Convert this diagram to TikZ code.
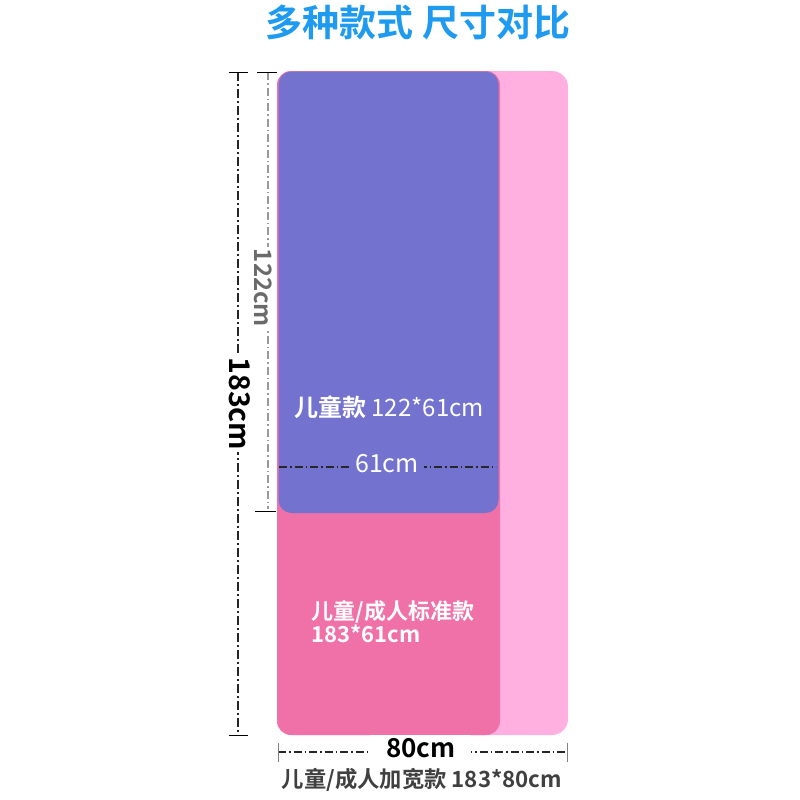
\documentclass[tikz,border=0pt]{standalone}
\usepackage{fontspec}
\setmainfont{Noto Sans CJK SC}
\newfontfamily\cjkb{Noto Sans CJK SC Bold}
\definecolor{titleblue}{HTML}{1E9BF0}
\definecolor{lightpink}{HTML}{FFB0E0}
\definecolor{midpink}{HTML}{F070A8}
\definecolor{violet}{HTML}{7373CF}
\definecolor{dimgray}{HTML}{6A6A6A}
\definecolor{txtgray}{HTML}{404040}
\tikzset{
  dimline/.style={line width=2.2pt, dash pattern=on 9pt off 3pt on 2pt off 3pt},
  dimthin/.style={line width=1.1pt, dash pattern=on 8pt off 3pt on 1.5pt off 3pt},
}
\begin{document}
\begin{tikzpicture}[x=1pt,y=-1pt]
\useasboundingbox (0,0) rectangle (800,800);
\fill[white] (0,0) rectangle (800,800);
% title
\node[font=\cjkb\fontsize{37}{40}\selectfont, text=titleblue] (title) at (418,22) {多种款式\ 尺寸对比};
% mats
\fill[lightpink, rounded corners=16pt] (277,71) rectangle (568,735);
\fill[midpink, rounded corners=14pt] (277,71) rectangle (500,735);
\fill[violet, rounded corners=13pt] (278.5,71.5) rectangle (498.5,513);
% left 183 dimension
\coordinate (a1) at (238,72);
\coordinate (a2) at (238,735);
\draw[dimline, black!85] (a1) -- (a2);
\draw[line width=1pt] (229,72) -- (248,72);
\draw[line width=1pt] (229,735) -- (248,735);
\node[font=\cjkb\fontsize{28.5}{30}\selectfont, rotate=-90, fill=white, inner sep=2pt] (l183) at (240,404) {183cm};
% 122 dimension
\coordinate (b1) at (268,72);
\coordinate (b2) at (268,509);
\draw[dimthin, gray!80] (b1) -- (b2);
\draw[line width=1pt] (257,72) -- (277,72);
\draw[line width=1pt] (255,511) -- (276,511);
\node[font=\cjkb\fontsize{24}{26}\selectfont, rotate=-90, text=dimgray, fill=white, inner sep=2pt] (l122) at (263,288) {122cm};
% 61 dimension
\coordinate (c1) at (279,467);
\coordinate (c2) at (496,467);
\draw[dimthin, black!85] (c1) -- (c2);
\node[font=\fontsize{25}{27}\selectfont, text=white, fill=violet, inner sep=3pt, inner xsep=5pt] (l61) at (387,464) {61cm};
% 80 dimension
\coordinate (d1) at (278,752);
\coordinate (d2) at (567,752);
\draw[dimthin, black!85] (d1) -- (d2);
\draw[line width=1pt, gray] (278,743) -- (278,762);
\draw[line width=1pt, gray] (567,743) -- (567,762);
\node[font=\cjkb\fontsize{26}{28}\selectfont, fill=white, inner sep=3pt, inner xsep=15pt] (l80) at (421,748) {80cm};
% bottom caption
\node[font=\cjkb\fontsize{22.3}{24}\selectfont, text=txtgray] (cap) at (422,780) {儿童/成人加宽款 183*80cm};
% labels inside
\node[font=\fontsize{24}{26}\selectfont, text=white] (kid) at (389,407) {{\cjkb 儿童款} 122*61cm};
\node[font=\cjkb\fontsize{22}{21}\selectfont, text=white, align=left, anchor=west] (std) at (308,622) {儿童/成人标准款\\183*61cm};
\end{tikzpicture}
\end{document}
